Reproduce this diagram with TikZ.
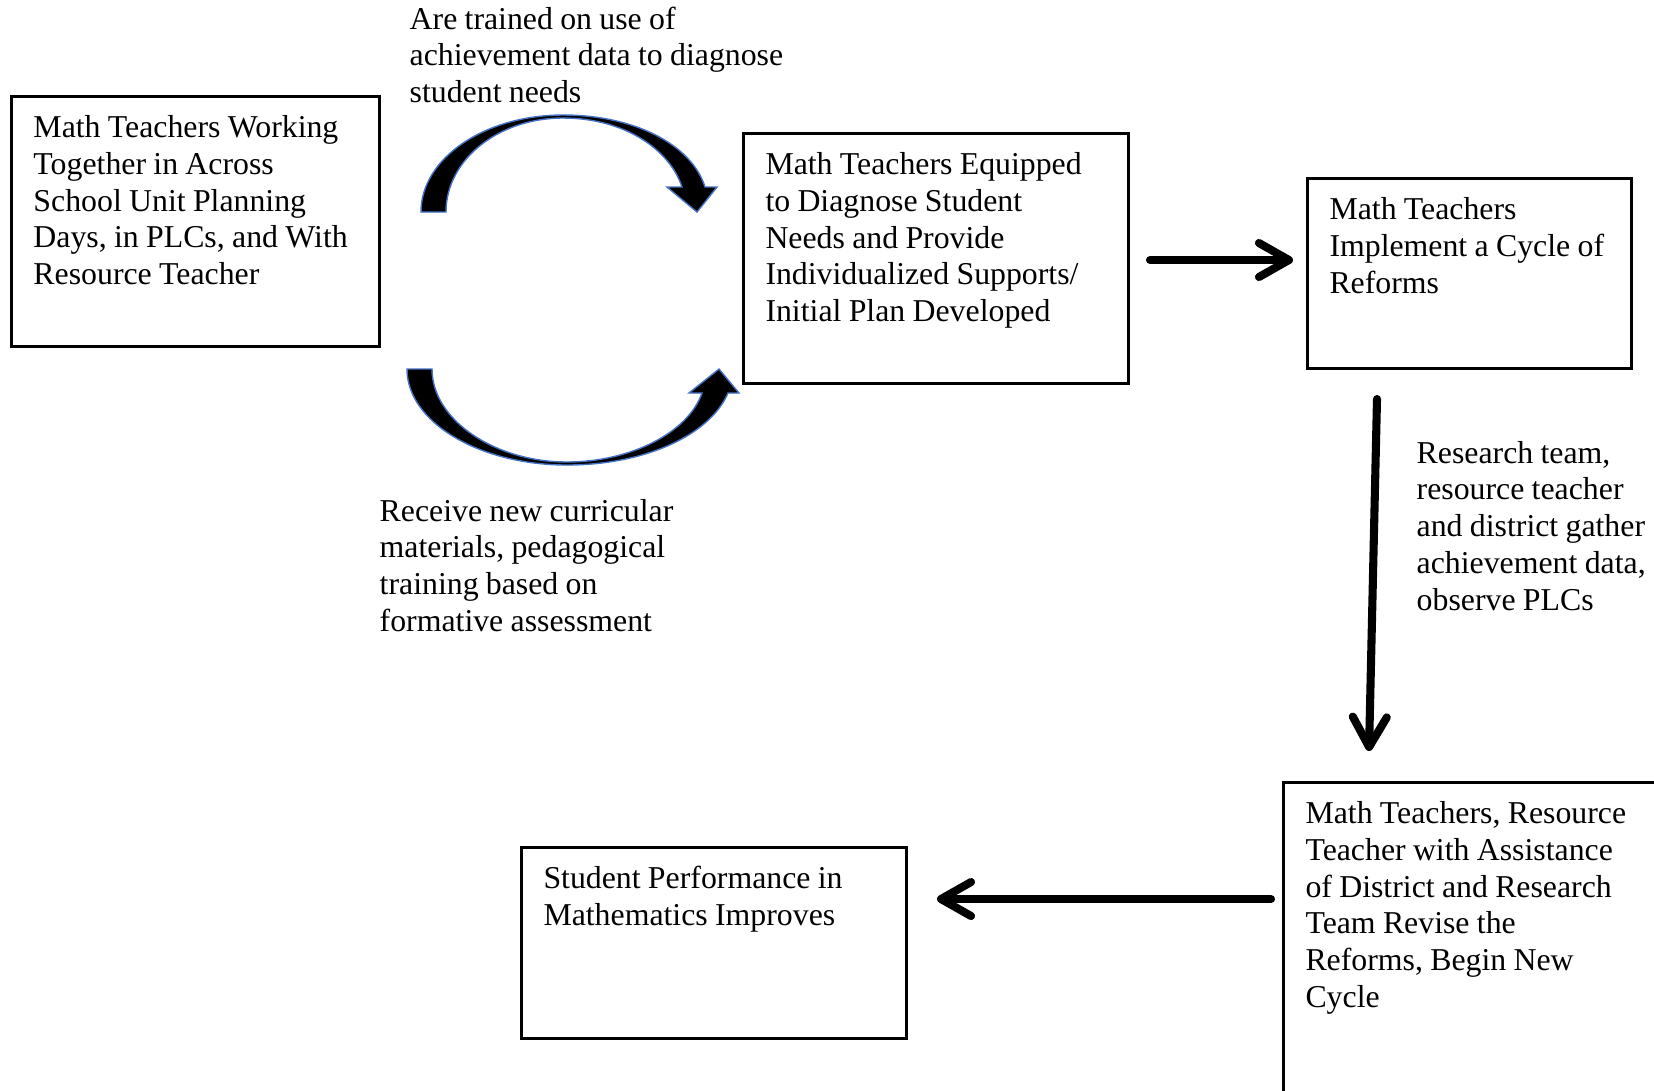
\documentclass[tikz,border=0pt]{standalone}
\usepackage{fontspec}
\setmainfont{Liberation Serif}
\usetikzlibrary{arrows.meta}
\definecolor{edgeblue}{RGB}{68,114,196}

\begin{document}
\begin{tikzpicture}[
	txt/.style={font=\fontsize{9.05}{10.47}\selectfont, execute at begin node={\spaceskip=0.23em\relax}},
	box/.style={txt, draw, line width=0.85pt, anchor=north west, inner xsep=0.22cm, inner ysep=0pt, align=left, text height=0.41cm},
	note/.style={txt, anchor=base west, inner sep=0pt, align=left, text width=4cm},
	flowarrow/.style={line width=2.3pt, line cap=round, -{Straight Barb[length=3mm, width=3.4mm, round]}},
	bendarrow/.style={fill=black, draw=edgeblue, line width=0.4pt}
]
	\useasboundingbox (0, 0) rectangle (16.54, -10.90);
	\node[box, text width=3.24cm, text depth=2.09cm] (plc) at (0.10, -0.95) {Math Teachers Working\\Together in Across\\School Unit Planning\\\mbox{Days, in PLCs, and With}\\Resource Teacher};
	\node[box, text width=3.41cm, text depth=2.09cm] (equip) at (7.42, -1.32) {Math Teachers Equipped\\to Diagnose Student\\Needs and Provide\\\mbox{Individualized Supports/}\\Initial Plan Developed};
	\node[box, text width=2.80cm, text depth=1.49cm] (impl) at (13.06, -1.77) {Math Teachers\\\mbox{Implement a Cycle of}\\Reforms};
	\node[box, text width=3.94cm, text depth=3.50cm] (revise) at (12.82, -7.81) {Math Teachers, Resource\\Teacher with Assistance\\of District and Research\\Team Revise the\\Reforms, Begin New\\Cycle};
	\node[box, text width=3.41cm, text depth=1.50cm] (perf) at (5.20, -8.46) {Student Performance in\\Mathematics Improves};

	\node[note] (trained) at (4.09, -0.29) {Are trained on use of\\achievement data to diagnose\\student needs};
	\node[note] (receive) at (3.79, -5.21) {Receive new curricular\\materials, pedagogical\\training based on\\formative assessment};
	\node[note] (gather) at (14.16, -4.63) {Research team,\\resource teacher\\and district gather\\achievement data,\\observe PLCs};

	\coordinate (r1) at (11.50, -2.60);
	\coordinate (r2) at (12.93, -2.60);
	\coordinate (d1) at (13.77, -3.99);
	\coordinate (d2) at (13.69, -7.51);
	\coordinate (l1) at (12.71, -8.99);
	\coordinate (l2) at (9.37, -8.99);
	\draw[flowarrow] (r1) -- (r2);
	\draw[flowarrow] (d1) -- (d2);
	\draw[flowarrow] (l1) -- (l2);

	\draw[bendarrow] (4.21, -2.12) .. controls (4.21, -1.58) and (4.85, -1.15) .. (5.63, -1.15)
		.. controls (6.35, -1.15) and (6.92, -1.45) .. (7.05, -1.87) -- (7.17, -1.87) -- (6.97, -2.12)
		-- (6.67, -1.87) -- (6.82, -1.87) .. controls (6.70, -1.50) and (6.25, -1.18) .. (5.63, -1.18)
		.. controls (4.98, -1.18) and (4.46, -1.60) .. (4.46, -2.12) -- cycle;
	\draw[bendarrow] (4.07, -3.69) .. controls (4.07, -4.22) and (4.79, -4.65) .. (5.67, -4.65)
		.. controls (6.45, -4.65) and (7.10, -4.35) .. (7.28, -3.93) -- (7.39, -3.93) -- (7.19, -3.69)
		-- (6.89, -3.93) -- (7.02, -3.93) .. controls (6.88, -4.33) and (6.30, -4.62) .. (5.67, -4.62)
		.. controls (4.95, -4.62) and (4.32, -4.20) .. (4.32, -3.69) -- cycle;
\end{tikzpicture}
\end{document}
